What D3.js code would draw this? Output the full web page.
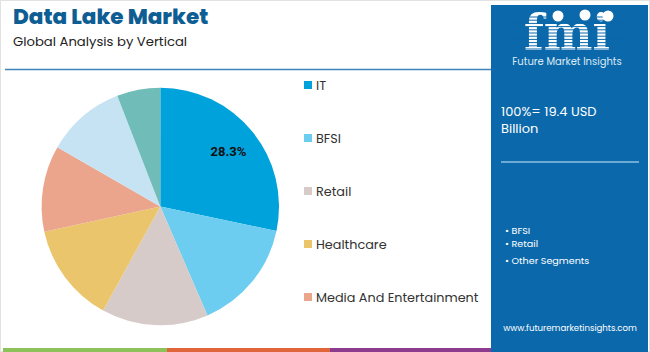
<!DOCTYPE html>
<html><head><meta charset="utf-8">
<script src="https://cdn.jsdelivr.net/npm/d3@7"></script>
<style>
html,body{margin:0;padding:0;background:#fff;}
svg{display:block;font-family:Poppins,"Open Sans","Noto Sans",sans-serif;}
</style></head>
<body><svg id="c" width="650" height="352"></svg>
<script>
const categories = ["IT","BFSI","Retail","Healthcare","Media And Entertainment","Others A","Others B"];
const shares = [28.3,15.2,14.5,13.6,11.7,10.8,5.9];
const legendItems = ["IT","BFSI","Retail","Healthcare","Media And Entertainment"];
const colors = ["#00a2db","#6ccdf0","#d6cbc8","#ebc56c","#eba58d","#c6e3f3","#70bcb8"];
const panelBullets = ["BFSI","Retail","Other Segments"];
const totalText = ["100%= 19.4 USD","Billion"];

const svg = d3.select("#c");
svg.append("rect").attr("x",0.5).attr("y",0.5).attr("width",649).attr("height",351).attr("fill","none").attr("stroke","#e2e2e2");
svg.append("text").attr("x",13).attr("y",24).attr("font-size",21.5).attr("font-weight",800).attr("fill","#0e5d93").text("Data Lake Market");
svg.append("text").attr("x",13).attr("y",45.5).attr("font-size",13.2).attr("fill","#222").text("Global Analysis by Vertical");
svg.append("line").attr("x1",5).attr("x2",491).attr("y1",69.5).attr("y2",69.5).attr("stroke","#3d84bd").attr("stroke-width",1.5);

const strip = [["#8dc15a",3,167],["#e0653a",167,330],["#8d3b8e",330,492]];
strip.forEach(s=>svg.append("rect").attr("x",s[1]).attr("y",348).attr("width",s[2]-s[1]).attr("height",4).attr("fill",s[0]));

const cx=160.3, cy=206.5, r=118.7;
const pie = d3.pie().sort(null).value(d=>d)(shares);
const arc = d3.arc().innerRadius(0).outerRadius(r);
const g = svg.append("g").attr("transform",`translate(${cx},${cy})`);
g.selectAll("path").data(pie).join("path").attr("d",arc).attr("fill",(d,i)=>colors[i]);
const lab = d3.arc().innerRadius(r*0.74).outerRadius(r*0.74);
const c0 = lab.centroid(pie[0]);
g.append("text").attr("x",c0[0]).attr("y",c0[1]).attr("text-anchor","middle").attr("dominant-baseline","central")
 .attr("font-size",13).attr("font-weight",700).attr("font-family","Roboto,Arial,sans-serif").attr("fill","#111").text(shares[0].toFixed(1)+"%");

const ly = d3.scalePoint().domain(legendItems).range([85,297]);
const lg = svg.append("g");
legendItems.forEach((k,i)=>{
  lg.append("rect").attr("x",304).attr("y",ly(k)-4).attr("width",8).attr("height",8).attr("fill",colors[i]);
  lg.append("text").attr("x",316).attr("y",ly(k)).attr("dominant-baseline","central").attr("font-size",12.8).attr("fill","#333").text(k);
});

svg.append("rect").attr("x",491).attr("y",5).attr("width",157).attr("height",347).attr("fill","#0b69ab");
const logo = svg.append("g");
logo.append("text").attr("x",567).attr("y",50).attr("text-anchor","middle").attr("font-size",46).attr("font-weight",700)
 .attr("font-family","DejaVu Serif,serif").attr("fill","#fff").attr("transform","translate(0,50) scale(1,1.1) translate(0,-50)").text("fmi");
for(let y=17;y<52;y+=3.2){logo.append("line").attr("x1",512).attr("x2",625).attr("y1",y).attr("y2",y).attr("stroke","#0b69ab").attr("stroke-width",1);}
[[558,16],[585,15],[608,16]].forEach(p=>logo.append("circle").attr("cx",p[0]).attr("cy",p[1]).attr("r",5.5).attr("fill","#fff"));
svg.append("text").attr("x",567).attr("y",65).attr("text-anchor","middle").attr("font-size",10).attr("fill","#dbeaf5").text("Future Market Insights");
totalText.forEach((t,i)=>svg.append("text").attr("x",501).attr("y",116+i*16.5).attr("font-size",13).attr("fill","#fff").text(t));
svg.append("line").attr("x1",501).attr("x2",639).attr("y1",162).attr("y2",162).attr("stroke","#8fc2e6").attr("stroke-width",1.3);
panelBullets.forEach((t,i)=>svg.append("text").attr("x",505).attr("y",[234,247,264][i]).attr("font-size",9.6).attr("fill","#fff").text("\u2022 "+t));
svg.append("text").attr("x",570).attr("y",331).attr("text-anchor","middle").attr("font-size",8.6).attr("fill","#fff").text("www.futuremarketinsights.com");
</script></body></html>
